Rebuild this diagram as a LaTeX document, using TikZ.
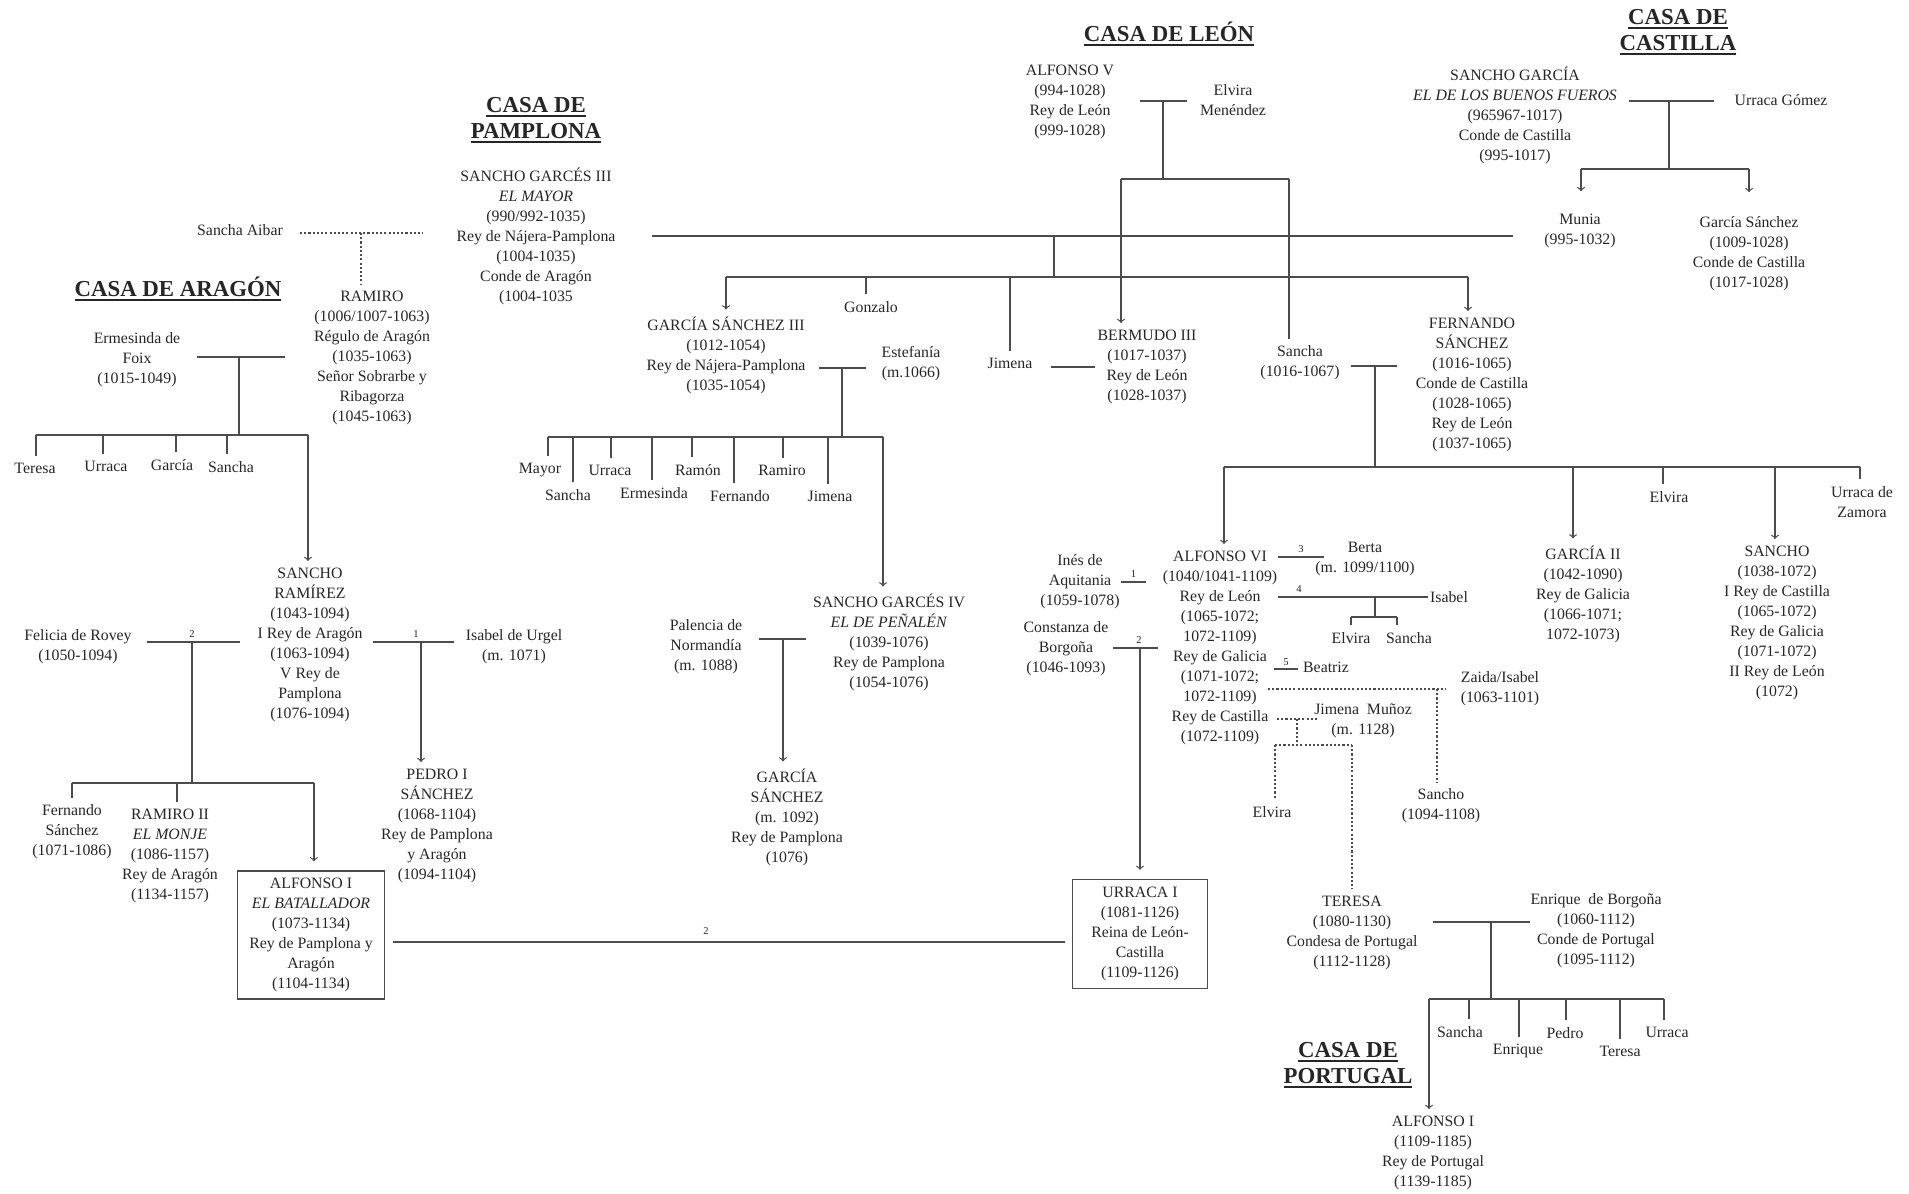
\documentclass[tikz,border=0pt]{standalone}
\usepackage{fontspec}
\setmainfont{Liberation Serif}
\usetikzlibrary{calc}
\newcommand{\subcasa}[1]{\setbox0\hbox{#1}\rlap{\rule[-2.6pt]{\wd0}{1.1pt}}#1}
\tikzset{
  persona/.style={align=center, inner sep=0pt, outer sep=4pt, text=black!85, font=\fontsize{9}{11.4}\selectfont},
  rey/.style={persona, draw=black!70, outer sep=5.5pt},
  titulo/.style={align=center, inner sep=0pt, text=black!85, font=\fontsize{13}{14.8}\selectfont\bfseries},
  num/.style={inner sep=0pt, text=black!85, font=\fontsize{6}{7}\selectfont},
  punteado/.style={dash pattern=on 1.2pt off 1.2pt}
}
\begin{document}
\begin{tikzpicture}[x=0.02cm, y=-0.02cm, line width=0.7pt, color=black!70]
\useasboundingbox (0,0) rectangle (1909,1193);
\node [titulo] (tara) at (178,289) {\subcasa{CASA DE ARAGÓN}};
\node [titulo] (tpam) at (536,120) {\subcasa{CASA DE}\\\subcasa{PAMPLONA}};
\node [titulo] (tleon) at (1169,34) {\subcasa{CASA DE LEÓN}};
\node [titulo] (tcas) at (1678,32) {\subcasa{CASA DE}\\\subcasa{CASTILLA}};
\node [titulo] (tpor) at (1348,1065) {\subcasa{CASA DE}\\\subcasa{PORTUGAL}};

\node [persona] (aibar) at (240,230) {Sancha Aibar};
\node [persona] (sg3) at (536,236) {SANCHO GARCÉS III\\\textit{EL MAYOR}\\(990/992-1035)\\Rey de Nájera-Pamplona\\(1004-1035)\\Conde de Aragón\\(1004-1035};
\node [persona] (ramiro) at (372,358) {RAMIRO\\(1006/1007-1063)\\Régulo de Aragón\\(1035-1063)\\Señor Sobrarbe y\\Ribagorza\\(1045-1063)};
\node [persona] (munia) at (1580,231) {Munia\\(995-1032)};
\node [persona] (gs3) at (726,355) {GARCÍA SÁNCHEZ III\\(1012-1054)\\Rey de Nájera-Pamplona\\(1035-1054)};
\node [persona] (gonzalo) at (871,307) {Gonzalo};
\node [persona] (jimena) at (1010,363) {Jimena};
\node [persona] (bermudo) at (1147,367) {BERMUDO III\\(1017-1037)\\Rey de León\\(1028-1037)};
\node [persona] (fernando) at (1472,385) {FERNANDO\\SÁNCHEZ\\(1016-1065)\\Conde de Castilla\\(1028-1065)\\Rey de León\\(1037-1065)};
\node [persona] (estefania) at (911,364) {Estefanía\\(m.1066)};
\node [persona] (mayor) at (540,470) {Mayor};
\node [persona] (sanchaP) at (568,495) {Sancha};
\node [persona] (urracaP) at (610,470) {Urraca};
\node [persona] (ermesindaP) at (654,493) {Ermesinda};
\node [persona] (ramon) at (698,470) {Ramón};
\node [persona] (fernandoP) at (740,496) {Fernando};
\node [persona] (ramiroP) at (782,470) {Ramiro};
\node [persona] (jimenaP) at (830,496) {Jimena};
\node [persona] (sg4) at (889,642) {SANCHO GARCÉS IV\\\textit{EL DE PEÑALÉN}\\(1039-1076)\\Rey de Pamplona\\(1054-1076)};
\node [persona] (palencia) at (706,647) {Palencia de\\Normandía\\(m. 1088)};
\node [persona] (gsP) at (787,817) {GARCÍA\\SÁNCHEZ\\(m. 1092)\\Rey de Pamplona\\(1076)};

\node [persona] (alf5) at (1070,102) {ALFONSO V\\(994-1028)\\Rey de León\\(999-1028)};
\node [persona] (elvira) at (1233,100) {Elvira\\Menéndez};
\node [persona] (sancha) at (1300,363) {Sancha\\(1016-1067)};

\node [persona] (sgarcia) at (1515,115) {SANCHO GARCÍA\\\textit{EL DE LOS BUENOS FUEROS}\\(965967-1017)\\Conde de Castilla\\(995-1017)};
\node [persona] (urracaG) at (1781,100) {Urraca Gómez};
\node [persona] (gsanchez) at (1749,254) {García Sánchez\\(1009-1028)\\Conde de Castilla\\(1017-1028)};

\node [persona] (ermesinda) at (137,360) {Ermesinda de\\Foix\\(1015-1049)};
\node [persona] (teresaA) at (35,468) {Teresa};
\node [persona] (urracaA) at (106,466) {Urraca};
\node [persona] (garciaA) at (172,465) {García};
\node [persona] (sanchaA) at (231,467) {Sancha};
\node [persona] (sr) at (310,645) {SANCHO\\RAMÍREZ\\(1043-1094)\\I Rey de Aragón\\(1063-1094)\\V Rey de\\Pamplona\\(1076-1094)};
\node [persona] (felicia) at (78,647) {Felicia de Rovey\\(1050-1094)};
\node [persona] (isabelU) at (514,647) {Isabel de Urgel\\(m. 1071)};
\node [persona] (fernandoA) at (72,832) {Fernando\\Sánchez\\(1071-1086)};
\node [persona] (ramiro2) at (170,856) {RAMIRO II\\\textit{EL MONJE}\\(1086-1157)\\Rey de Aragón\\(1134-1157)};
\node [rey, minimum width=2.94cm, minimum height=2.56cm] (alf1) at (311,935) {ALFONSO I\\\textit{EL BATALLADOR}\\(1073-1134)\\Rey de Pamplona y\\Aragón\\(1104-1134)};
\node [persona] (pedro) at (437,826) {PEDRO I\\SÁNCHEZ\\(1068-1104)\\Rey de Pamplona\\y Aragón\\(1094-1104)};

\node [persona] (alf6) at (1220,648) {ALFONSO VI\\(1040/1041-1109)\\Rey de León\\(1065-1072;\\1072-1109)\\Rey de Galicia\\(1071-1072;\\1072-1109)\\Rey de Castilla\\(1072-1109)};
\node [persona] (berta) at (1365,559) {Berta\\(m. 1099/1100)};
\node [persona] (ines) at (1080,582) {Inés de\\Aquitania\\(1059-1078)};
\node [persona] (isabel) at (1449,597) {Isabel};
\node [persona] (elviraI) at (1351,638) {Elvira};
\node [persona] (sanchaI) at (1409,638) {Sancha};
\node [persona] (constanza) at (1066,649) {Constanza de\\Borgoña\\(1046-1093)};
\node [persona] (beatriz) at (1326,667) {Beatriz};
\node [persona] (zaida) at (1500,689) {Zaida/Isabel\\(1063-1101)};
\node [persona] (jimenaM) at (1363,721) {Jimena\ \ Muñoz\\(m. 1128)};
\node [persona] (elviraJ) at (1272,812) {Elvira};
\node [persona] (sanchoZ) at (1441,806) {Sancho\\(1094-1108)};
\node [rey, minimum width=2.7cm, minimum height=2.18cm] (urr1) at (1140,934) {URRACA I\\(1081-1126)\\Reina de León-\\Castilla\\(1109-1126)};
\node [persona] (teresa) at (1352,933) {TERESA\\(1080-1130)\\Condesa de Portugal\\(1112-1128)};

\node [persona] (garcia2) at (1583,594) {GARCÍA II\\(1042-1090)\\Rey de Galicia\\(1066-1071;\\1072-1073)};
\node [persona] (elviraF) at (1669,497) {Elvira};
\node [persona] (sanchoF) at (1777,623) {SANCHO\\(1038-1072)\\I Rey de Castilla\\(1065-1072)\\Rey de Galicia\\(1071-1072)\\II Rey de León\\(1072)};
\node [persona] (urracaZ) at (1862,502) {Urraca de\\Zamora};

\node [persona] (enrique) at (1596,931) {Enrique\ \ de Borgoña\\(1060-1112)\\Conde de Portugal\\(1095-1112)};
\node [persona] (sanchaT) at (1460,1032) {Sancha};
\node [persona] (enriqueT) at (1518,1051) {Enrique};
\node [persona] (pedroT) at (1565,1033) {Pedro};
\node [persona] (teresaT) at (1620,1051) {Teresa};
\node [persona] (urracaT) at (1667,1032) {Urraca};
\node [persona] (alfP) at (1433,1153) {ALFONSO I\\(1109-1185)\\Rey de Portugal\\(1139-1185)};

\coordinate (d1) at (300,233); \coordinate (d2) at (423,233); \coordinate (d3) at (361,233);
\draw [punteado] (d1) -- (d2);
\draw [punteado] (d3) -- (d3 |- ramiro.north);

\coordinate (p1) at (652,236); \coordinate (p2) at (1513,236); \coordinate (p3) at (1054,236);
\coordinate (p4) at (1054,277); \coordinate (p5) at (726,277); \coordinate (p6) at (1468,277);
\coordinate (p7) at (866,277); \coordinate (p8) at (1010,277);
\draw (p1) -- (p2);
\draw (p3) -- (p4);
\draw (p5) -- (p6);
\draw [->] (p5) -- (p5 |- gs3.north);
\draw (p7) -- (p7 |- gonzalo.north);
\draw (p8) -- (p8 |- jimena.north);
\draw [->] (p6) -- (p6 |- fernando.north);
\coordinate (j1) at (1051,367); \coordinate (j2) at (1095,367);
\draw (j1) -- (j2);

\coordinate (l1) at (1140,101); \coordinate (l2) at (1187,101); \coordinate (l3) at (1163,101);
\coordinate (l4) at (1163,179); \coordinate (l5) at (1121,179); \coordinate (l6) at (1289,179);
\draw (l1) -- (l2);
\draw (l3) -- (l4);
\draw (l5) -- (l6);
\draw [->] (l5) -- (l5 |- bermudo.north);
\draw (l6) -- (l6 |- sancha.north);

\coordinate (c1) at (1629,101); \coordinate (c2) at (1714,101); \coordinate (c3) at (1669,101);
\coordinate (c4) at (1669,169); \coordinate (c5) at (1581,169); \coordinate (c6) at (1749,169);
\draw (c1) -- (c2);
\draw (c3) -- (c4);
\draw (c5) -- (c6);
\draw [->, shorten >=9pt] (c5) -- (c5 |- munia.north);
\draw [->, shorten >=10pt] (c6) -- (c6 |- gsanchez.north);

\coordinate (a1) at (197,357); \coordinate (a2) at (285,357); \coordinate (a3) at (239,357);
\coordinate (a4) at (239,435); \coordinate (a5) at (36,435); \coordinate (a6) at (308,435);
\coordinate (a7) at (103,435); \coordinate (a8) at (176,435); \coordinate (a9) at (227,435);
\draw (a1) -- (a2);
\draw (a3) -- (a4);
\draw (a5) -- (a6);
\draw (a5) -- (a5 |- teresaA.north);
\draw (a7) -- (a7 |- urracaA.north);
\draw (a8) -- (a8 |- garciaA.north);
\draw (a9) -- (a9 |- sanchaA.north);
\draw [->] (a6) -- (a6 |- sr.north);

\coordinate (a10) at (147,642); \coordinate (a11) at (240,642); \coordinate (a12) at (192,642);
\coordinate (a13) at (192,783); \coordinate (a14) at (72,783); \coordinate (a15) at (314,783);
\coordinate (a16) at (177,783);
\draw (a10) -- (a11);
\node [num] (na2) at ($(a12)+(0,-8)$) {2};
\draw (a12) -- (a13);
\draw (a14) -- (a15);
\draw (a14) -- (a14 |- fernandoA.north);
\draw (a16) -- (a16 |- ramiro2.north);
\draw [->] (a15) -- (a15 |- alf1.north);
\coordinate (a17) at (373,642); \coordinate (a18) at (454,642); \coordinate (a19) at (421,642);
\draw (a17) -- (a18);
\node [num] (na1) at ($(a19)+(-5,-8)$) {1};
\draw [->] (a19) -- (a19 |- pedro.north);
\coordinate (u1) at (393,942); \coordinate (u2) at (1065,942);
\draw (u1) -- (u2);
\node [num] (nu2) at (706,931) {2};

\coordinate (g1) at (819,368); \coordinate (g2) at (866,368); \coordinate (g3) at (842,368);
\coordinate (g4) at (842,437); \coordinate (g5) at (548,437); \coordinate (g6) at (883,437);
\draw (g1) -- (g2);
\draw (g3) -- (g4);
\draw (g5) -- (g6);
\coordinate (h1) at (573,437); \coordinate (h2) at (611,437); \coordinate (h3) at (652,437);
\coordinate (h4) at (692,437); \coordinate (h5) at (734,437); \coordinate (h6) at (783,437);
\coordinate (h7) at (828,437);
\draw (g5) -- (g5 |- mayor.north);
\draw (h1) -- (h1 |- sanchaP.north);
\draw (h2) -- (h2 |- urracaP.north);
\draw (h3) -- (h3 |- ermesindaP.north);
\draw (h4) -- (h4 |- ramon.north);
\draw (h5) -- (h5 |- fernandoP.north);
\draw (h6) -- (h6 |- ramiroP.north);
\draw (h7) -- (h7 |- jimenaP.north);
\draw [->] (g6) -- (g6 |- sg4.north);
\coordinate (g8) at (759,639); \coordinate (g9) at (806,639); \coordinate (g10) at (783,639);
\draw (g8) -- (g9);
\draw [->] (g10) -- (g10 |- gsP.north);

\coordinate (f1) at (1351,366); \coordinate (f2) at (1397,366); \coordinate (f3) at (1375,366);
\coordinate (f4) at (1375,467); \coordinate (f5) at (1224,467); \coordinate (f6) at (1860,467);
\coordinate (f7) at (1573,467); \coordinate (f8) at (1663,467); \coordinate (f9) at (1775,467);
\draw (f1) -- (f2);
\draw (f3) -- (f4);
\draw (f5) -- (f6);
\draw [->] (f5) -- (f5 |- alf6.north);
\draw [->] (f7) -- (f7 |- garcia2.north);
\draw (f8) -- (f8 |- elviraF.north);
\draw [->] (f9) -- (f9 |- sanchoF.north);
\draw (f6) -- (f6 |- urracaZ.north);

\coordinate (v1) at (1278,557); \coordinate (v2) at (1324,557);
\draw (v1) -- (v2);
\node [num] (nv3) at ($(v1)!0.5!(v2)+(0,-8)$) {3};
\coordinate (v3) at (1121,582); \coordinate (v4) at (1146,582);
\draw (v3) -- (v4);
\node [num] (nv1) at ($(v3)!0.5!(v4)+(0,-8)$) {1};
\coordinate (v5) at (1278,597); \coordinate (v6) at (1428,597); \coordinate (v7) at (1375,597);
\coordinate (v8) at (1375,617); \coordinate (v9) at (1351,617); \coordinate (v10) at (1397,617);
\draw (v5) -- (v6);
\node [num] (nv4) at ($(v5)+(21,-8)$) {4};
\draw (v7) -- (v8);
\draw (v9) -- (v10);
\draw (v9) -- (v9 |- elviraI.north);
\draw (v10) -- (v10 |- sanchaI.north);
\coordinate (v11) at (1113,648); \coordinate (v12) at (1158,648); \coordinate (v13) at (1140,648);
\draw (v11) -- (v12);
\node [num] (nv2) at ($(v13)+(-1,-8)$) {2};
\draw [->] (v13) -- (v13 |- urr1.north);
\coordinate (v14) at (1274,669); \coordinate (v15) at (1298,669);
\draw (v14) -- (v15);
\node [num] (nv5) at ($(v14)!0.5!(v15)+(0,-7)$) {5};
\coordinate (v16) at (1268,689); \coordinate (v17) at (1446,689); \coordinate (v18) at (1437,689);
\draw [punteado] (v16) -- (v17);
\draw [punteado] (v18) -- (v18 |- sanchoZ.north);
\coordinate (v19) at (1277,719); \coordinate (v20) at (1318,719); \coordinate (v21) at (1297,719);
\coordinate (v22) at (1297,745); \coordinate (v23) at (1275,745); \coordinate (v24) at (1352,745);
\draw [punteado] (v19) -- (v20);
\draw [punteado] (v21) -- (v22);
\draw [punteado] (v23) -- (v24);
\draw [punteado] (v23) -- (v23 |- elviraJ.north);
\draw [punteado] (v24) -- (v24 |- teresa.north);

\coordinate (t1) at (1433,922); \coordinate (t2) at (1530,922); \coordinate (t3) at (1491,922);
\coordinate (t4) at (1491,999); \coordinate (t5) at (1429,999); \coordinate (t6) at (1664,999);
\coordinate (t7) at (1469,999); \coordinate (t8) at (1519,999); \coordinate (t9) at (1566,999);
\coordinate (t10) at (1620,999);
\draw (t1) -- (t2);
\draw (t3) -- (t4);
\draw (t5) -- (t6);
\draw [->] (t5) -- (t5 |- alfP.north);
\draw (t7) -- (t7 |- sanchaT.north);
\draw (t8) -- (t8 |- enriqueT.north);
\draw (t9) -- (t9 |- pedroT.north);
\draw (t10) -- (t10 |- teresaT.north);
\draw (t6) -- (t6 |- urracaT.north);
\end{tikzpicture}
\end{document}
